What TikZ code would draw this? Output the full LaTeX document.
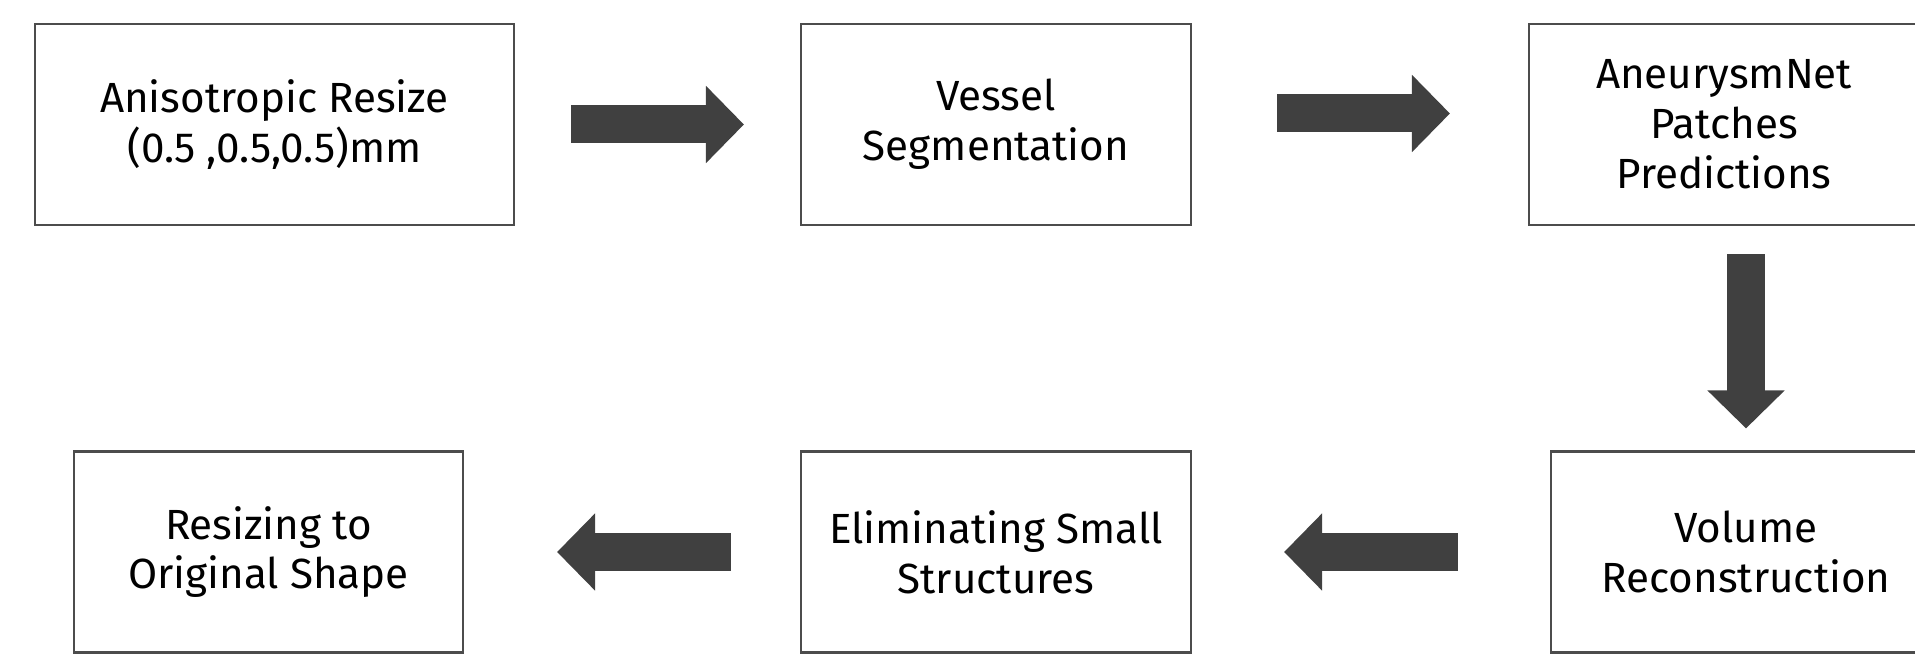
\documentclass[tikz,border=0pt]{standalone}
\usepackage{fontspec}
\setmainfont{Fira Sans}
\usetikzlibrary{arrows.meta}
\definecolor{arrgray}{RGB}{64,64,64}
\begin{document}
\begin{tikzpicture}[
  box/.style={draw=black!70, line width=0.6pt, minimum width=3.9cm, minimum height=2.01cm,
    inner sep=0pt, align=center, font=\fontsize{12}{14.2}\selectfont},
  flow/.style={draw=arrgray, line width=3.8mm, -{Triangle[length=3.8mm,width=7.5mm]}}]
\useasboundingbox (0,0) rectangle (19.15,6.55);
\node [box, minimum width=4.79cm] (aniso) at (2.745,5.305) {Anisotropic Resize\\(0.5 ,0.5,0.5)mm};
\node [box] (vessel) at (9.96,5.305) {Vessel\\Segmentation};
\node [box] (pred) at (17.24,5.305) {AneurysmNet\\Patches\\Predictions};
\node [box] (recon) at (17.46,1.03) {Volume\\Reconstruction};
\node [box] (elim) at (9.96,1.03) {Eliminating Small\\Structures};
\node [box, minimum width=3.89cm] (resz) at (2.685,1.03) {Resizing to\\Original Shape};
\draw [flow, shorten <=5.6mm, shorten >=5.6mm] (aniso) -- (vessel);
\draw [flow, shorten <=8.5mm, shorten >=7.8mm] ([yshift=1.1mm]vessel.east) -- ([yshift=1.1mm]pred.west);
\draw [flow, shorten <=2.8mm, shorten >=2.2mm] (recon.north |- pred.south) -- (recon.north);
\draw [flow, shorten <=9.2mm, shorten >=9.2mm] (recon) -- (elim);
\draw [flow, shorten <=6.9mm, shorten >=9.3mm] (elim) -- (resz);
\end{tikzpicture}
\end{document}
